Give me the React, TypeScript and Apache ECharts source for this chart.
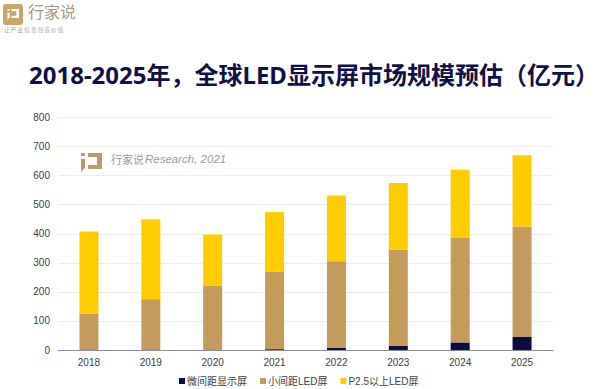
import React, { useEffect, useRef } from "react";
import * as echarts from "echarts";

const years = ["2018", "2019", "2020", "2021", "2022", "2023", "2024", "2025"];
const micro = [0, 0, 0, 3, 8, 15, 26, 45];
const small = [125, 175, 222, 267, 297, 330, 359, 380];
const large = [283, 275, 175, 205, 227, 230, 235, 245];
const titleText = "2018-2025年，全球LED显示屏市场规模预估（亿元）";
const FONT = '"Liberation Sans", "Noto Sans CJK SC", sans-serif';
const TITLE_FONT = '"Noto Sans", "Noto Sans CJK SC", sans-serif';

const markPath = "M0 0L4 0L4 3L0 3ZM0 6L4 6L4 15L0 19ZM7 0L21 0L21 16L7 16L7 12L16 12L16 4L7 4Z";
echarts.graphic.registerShape("wmark", echarts.graphic.extendPath(markPath, {}) as any);

export default function App() {
  const ref = useRef<HTMLDivElement>(null);
  useEffect(() => {
    const chart = echarts.init(ref.current!, undefined, { renderer: "svg" });
    const bar = (name: string, data: number[], color: string) => ({
      name, type: "bar", stack: "t", data, barWidth: 19, itemStyle: { color },
    });
    chart.setOption({
      animation: false,
      backgroundColor: "#ffffff",
      title: {
        text: titleText, left: 24, top: 57,
        textStyle: { fontFamily: TITLE_FONT, fontSize: 24, fontWeight: "bold", color: "#0f1045" },
      },
      legend: {
        bottom: -2, left: 174, itemWidth: 6, itemHeight: 6, itemGap: 13, icon: "rect",
        textStyle: { fontFamily: FONT, fontSize: 10, color: "#404040", padding: [0, 0, 0, -3] },
      },
      grid: { left: 58, right: 47, top: 117.5, bottom: 39 },
      xAxis: {
        type: "category", data: years,
        axisTick: { show: false },
        axisLine: { lineStyle: { color: "#8a8a92", width: 1 } },
        axisLabel: { fontFamily: FONT, fontSize: 10, color: "#404040", margin: 7 },
      },
      yAxis: {
        type: "value", min: 0, max: 800, interval: 100,
        axisLine: { show: false }, axisTick: { show: false },
        axisLabel: { fontFamily: FONT, fontSize: 10, color: "#404040", margin: 8 },
        splitLine: { lineStyle: { color: "#ececec", width: 1 } },
      },
      series: [
        bar("微间距显示屏", micro, "#0b0b45"),
        bar("小间距LED屏", small, "#c59b5b"),
        bar("P2.5以上LED屏", large, "#ffcc00"),
      ],
      graphic: [
        { type: "rect", x: 3, y: 4, shape: { width: 20, height: 21, r: 3 }, style: { fill: "#c9a56c" } },
        { type: "wmark", x: 7.5, y: 9, scaleX: 0.55, scaleY: 0.57, style: { fill: "#ffffff" } },
        { type: "text", x: 28, y: 3, style: { text: "行家说", fill: "#a69a80", font: `16px "Noto Sans CJK SC"` } },
        { type: "text", x: 4, y: 27, style: { text: "让 产 业 信 息 创 造 价 值", fill: "#9a9a9a", font: `5.5px "Noto Sans CJK SC"` } },
        { type: "wmark", x: 81, y: 153, style: { fill: "#b89d68" } },
        { type: "text", x: 111, y: 153, style: { text: "行家说", fill: "#9a9a9a", font: `11px "Noto Sans CJK SC"` } },
        { type: "text", x: 145, y: 153, style: { text: "Research, 2021", fill: "#9a9a9a", font: `italic 11.5px ${FONT}` } },
      ],
    });
    return () => chart.dispose();
  }, []);
  return <div ref={ref} style={{ position: "fixed", left: 0, top: 0, width: 600, height: 389 }} />;
}
